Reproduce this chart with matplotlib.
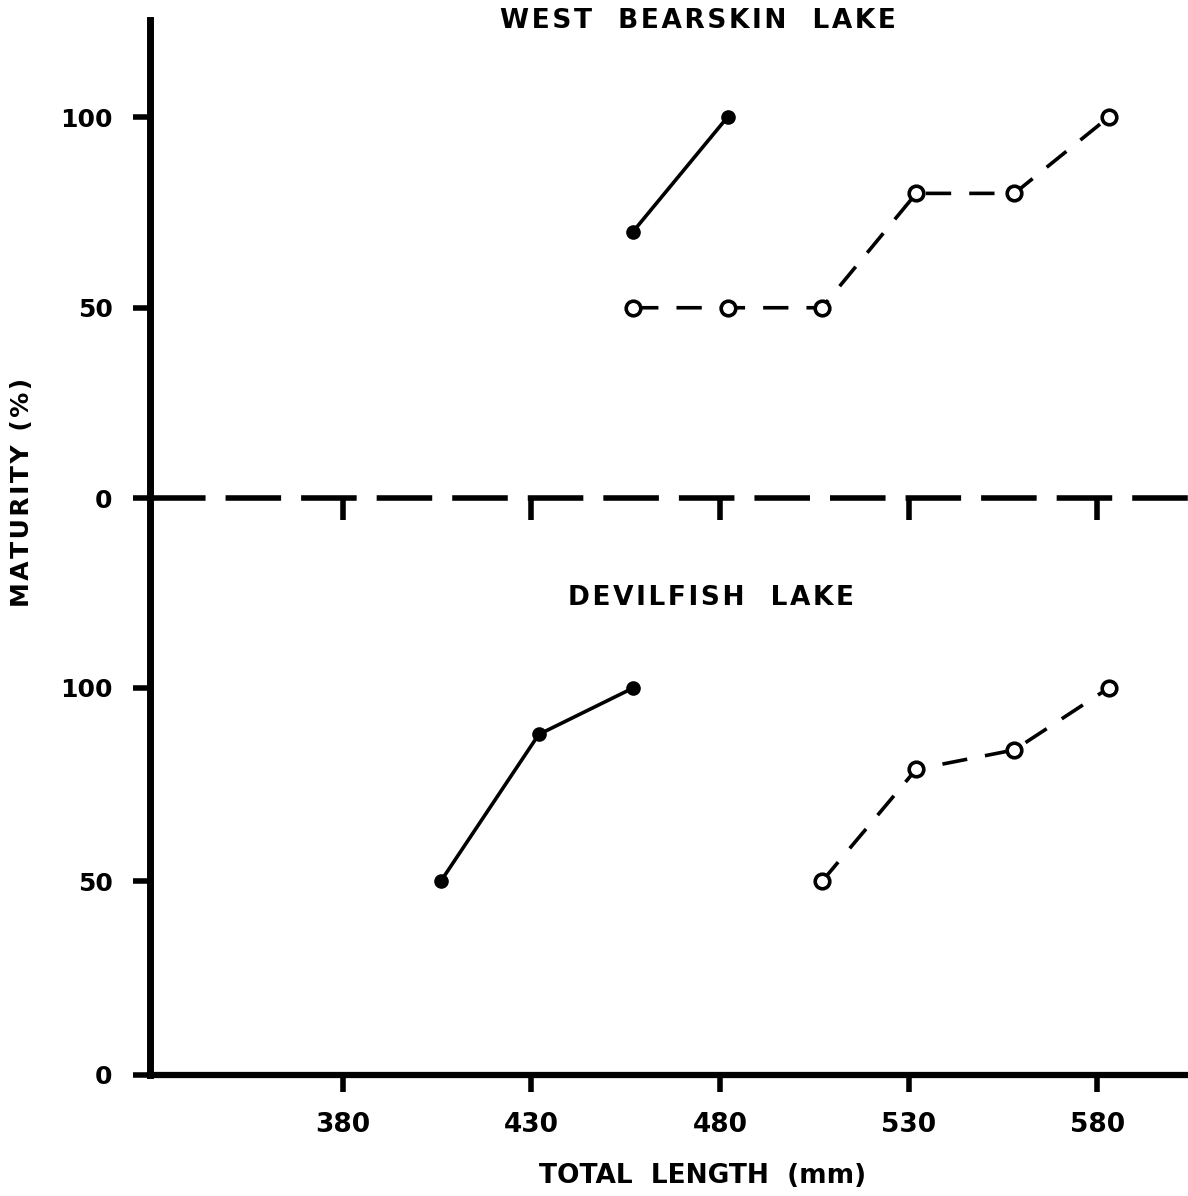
import matplotlib
matplotlib.use("Agg")
import matplotlib.pyplot as plt

# total length class midpoints (mm) and % mature
wb_solid_x = [457, 482]
wb_solid_y = [70, 100]
wb_open_x = [457, 482, 507, 532, 558, 583]
wb_open_y = [50, 50, 50, 80, 80, 100]

dv_solid_x = [406, 432, 457]
dv_solid_y = [50, 88, 100]
dv_open_x = [507, 532, 558, 583]
dv_open_y = [50, 79, 84, 100]

x_ticks = [380, 430, 480, 530, 580]
y_ticks = [0, 50, 100]

# upper panel is stacked above the lower one on the same axis
top_offset = 149
top_scale = 0.985

def top(v):
    return [top_offset + top_scale * y for y in v]

def spaced(s, sep="\u200a"):
    # a little extra letter spacing, like the original lettering
    return sep.join(s)

plt.rcParams["font.family"] = "DejaVu Sans"
plt.rcParams["font.weight"] = "bold"

fig = plt.figure(figsize=(11.88, 11.96), dpi=100)
ax = fig.add_axes([150 / 1188, 121 / 1196, 1 - 150 / 1188, (1075 - 20) / 1196])
ax.set_xlim(329, 604)
ax.set_ylim(0, 272.6)

lw = 2.6
dash = (0, (7, 5))
ax.plot(wb_solid_x, top(wb_solid_y), color="black", lw=lw, marker="o", ms=9.5)
ax.plot(wb_open_x, top(wb_open_y), color="black", lw=lw, ls=dash, marker="o",
        ms=10.5, mfc="white", mec="black", mew=2.6)
ax.plot(dv_solid_x, dv_solid_y, color="black", lw=lw, marker="o", ms=9.5)
ax.plot(dv_open_x, dv_open_y, color="black", lw=lw, ls=dash, marker="o",
        ms=10.5, mfc="white", mec="black", mew=2.6)

# zero line of the upper panel with its own ticks
ax.axhline(top_offset, color="black", lw=4, ls=(0, (10, 3.6)))
ax.vlines(x_ticks, top_offset - 5.5, top_offset, color="black", lw=4)

# left axis ticks for both panels
ticks = y_ticks + top(y_ticks)
ax.set_yticks(ticks)
ax.set_yticklabels([str(t) for t in y_ticks] * 2, fontsize=18, fontweight="bold")
ax.set_xticks(x_ticks)
ax.set_xticklabels([str(t) for t in x_ticks], fontsize=19, fontweight="bold")
ax.tick_params(axis="both", length=12, width=4)
ax.tick_params(axis="x", pad=15)
ax.tick_params(axis="y", pad=15)

for s in ["top", "right"]:
    ax.spines[s].set_visible(False)
ax.spines["left"].set_linewidth(5)
ax.spines["bottom"].set_linewidth(4.5)

fig.text(698 / 1188, 1 - 21 / 1196, spaced("WEST  BEARSKIN  LAKE"), ha="center",
         va="center", fontsize=19, fontweight="bold")
fig.text(711 / 1188, 1 - 598 / 1196, spaced("DEVILFISH  LAKE"), ha="center",
         va="center", fontsize=19, fontweight="bold")
fig.text(22 / 1188, 1 - 492 / 1196, spaced("MATURITY (%)"), ha="center", va="center",
         rotation=90, fontsize=18, fontweight="bold")
fig.text(703 / 1188, 1 - 1176 / 1196, "TOTAL  LENGTH  (mm)", ha="center",
         va="center", fontsize=19, fontweight="bold")

fig.savefig("out.png", dpi=100)
